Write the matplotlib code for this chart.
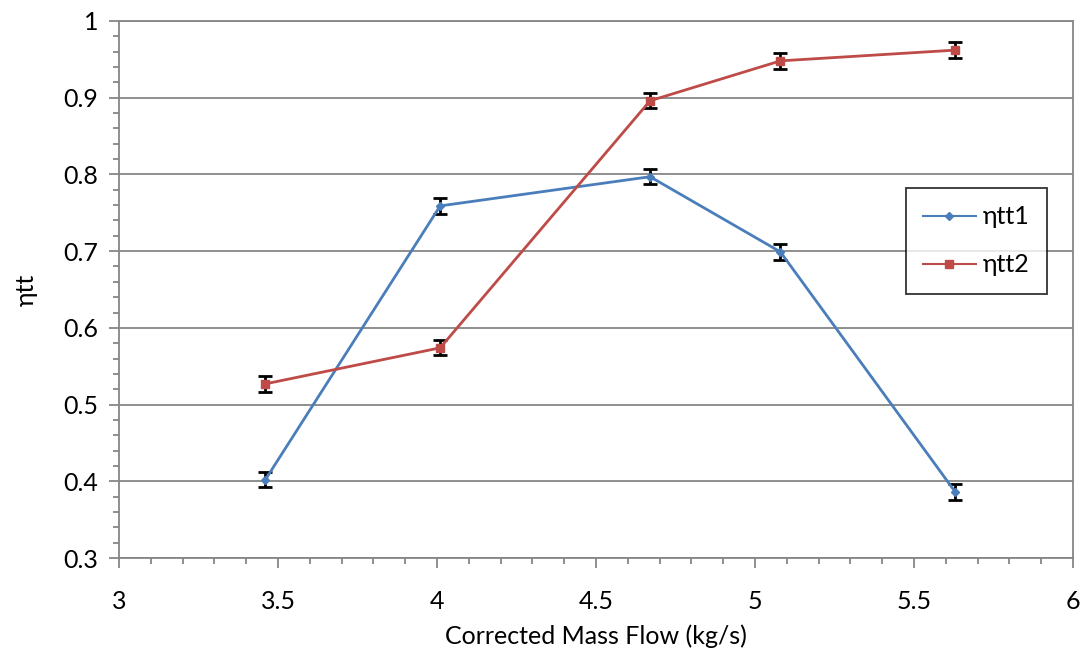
import numpy as np
import matplotlib.pyplot as plt
from matplotlib.ticker import MultipleLocator

# corrected mass flow (kg/s) and total-to-total efficiency
mass_flow = [3.46, 4.01, 4.67, 5.08, 5.63]
eta_tt1 = [0.402, 0.759, 0.797, 0.699, 0.386]
eta_tt2 = [0.527, 0.574, 0.896, 0.948, 0.962]
err_tt1 = [0.01, 0.01, 0.01, 0.01, 0.01]
err_tt2 = [0.01, 0.01, 0.01, 0.01, 0.01]

plt.rcParams['font.family'] = ['Lato', 'DejaVu Sans']

fig = plt.figure(figsize=(10.86, 6.55), dpi=100)
ax = fig.add_axes([0.1096, 0.148, 0.8784, 0.820])

grey = '#868686'
fs = 18
ax.set_xlim(3, 6)
ax.set_ylim(0.3, 1.0)
ax.xaxis.set_major_locator(MultipleLocator(0.5))
ax.xaxis.set_minor_locator(MultipleLocator(0.1))
ax.yaxis.set_major_locator(MultipleLocator(0.1))
ax.yaxis.set_minor_locator(MultipleLocator(0.02))
ax.xaxis.set_major_formatter(plt.FuncFormatter(lambda v, p: f'{v:g}'))
ax.yaxis.set_major_formatter(plt.FuncFormatter(lambda v, p: f'{v:g}'))

ax.grid(which='major', axis='y', color=grey, linewidth=1.3)
ax.set_axisbelow(True)
for s in ax.spines.values():
    s.set_color(grey)
    s.set_linewidth(1.3)
ax.tick_params(which='major', length=7, width=1.3, color=grey, labelsize=fs, pad=8)
ax.tick_params(which='minor', length=4, width=1.3, color=grey)
ax.tick_params(axis='x', pad=16)

ax.errorbar(mass_flow, eta_tt1, yerr=err_tt1, color='#4a7ebb', linewidth=2,
            marker='D', markersize=4, ecolor='black', elinewidth=2, capsize=5,
            capthick=2, label='ηtt1', zorder=3)
ax.errorbar(mass_flow, eta_tt2, yerr=err_tt2, color='#be4b48', linewidth=2,
            marker='s', markersize=6, ecolor='black', elinewidth=2, capsize=5,
            capthick=2, label='ηtt2', zorder=3)

handles, labels = ax.get_legend_handles_labels()
leg = ax.legend([h[0] for h in handles], labels, loc='upper left',
                bbox_to_anchor=(0.834, 0.713), bbox_transform=fig.transFigure,
                borderaxespad=0, fontsize=fs, frameon=True,
                fancybox=False, edgecolor='black', handlelength=2.1,
                labelspacing=1.0, borderpad=0.7, handletextpad=0.3)
leg.get_frame().set_linewidth(1.3)
for ln in leg.get_lines():
    ln.set_linewidth(1.5)

ax.set_xlabel('Corrected Mass Flow (kg/s)', fontsize=fs, labelpad=8)
ax.set_ylabel('ηtt', fontsize=fs, labelpad=18)

fig.savefig('out.png', dpi=100)
